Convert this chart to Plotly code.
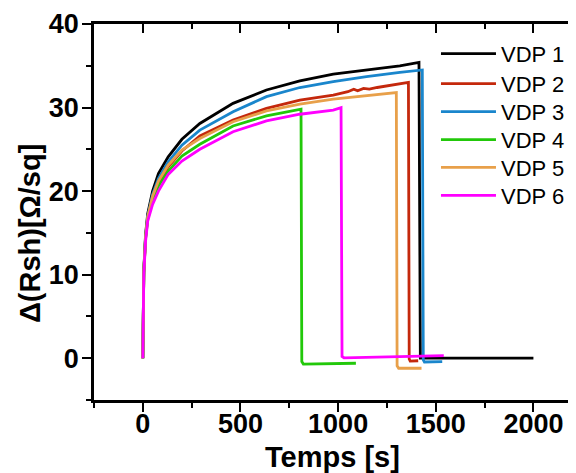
import plotly.graph_objects as go

# ---- data ----
series_names = ["VDP 1", "VDP 2", "VDP 3", "VDP 4", "VDP 5", "VDP 6"]

t1 = [0, 1.5, 5, 14, 25, 50, 80, 130, 200, 292, 462, 633, 804, 975, 1145, 1316, 1414, 1418, 1421, 2000]
y1 = [0, 6.3, 10.5, 14.8, 17.3, 20.0, 22.1, 24.1, 26.2, 28.1, 30.5, 32.1, 33.2, 34.0, 34.5, 35.0, 35.4, 0.2, 0.0, 0.0]

t2 = [0, 1.5, 5, 14, 25, 50, 80, 130, 200, 292, 462, 633, 804, 975, 1050, 1080, 1100, 1130, 1160, 1200, 1250, 1316, 1360, 1364, 1369, 1410]
y2 = [0, 6.2, 10.3, 14.4, 16.8, 19.2, 21.0, 22.9, 24.8, 26.6, 28.5, 29.9, 30.9, 31.5, 31.9, 32.2, 32.0, 32.3, 32.2, 32.4, 32.6, 32.8, 33.0, -0.1, -0.35, -0.3]

t3 = [0, 1.5, 5, 14, 25, 50, 80, 130, 200, 292, 462, 633, 804, 975, 1145, 1316, 1431, 1436, 1442, 1533]
y3 = [0, 6.3, 10.4, 14.6, 17.0, 19.6, 21.5, 23.5, 25.5, 27.3, 29.5, 31.3, 32.4, 33.1, 33.7, 34.2, 34.5, -0.2, -0.45, -0.4]

t4 = [0, 1.5, 5, 14, 25, 50, 80, 130, 200, 292, 462, 633, 810, 814, 822, 1091]
y4 = [0, 6.1, 10.2, 14.3, 16.6, 19.0, 20.6, 22.4, 24.2, 25.6, 27.8, 29.0, 29.8, -0.4, -0.7, -0.6]

t5 = [0, 1.5, 5, 14, 25, 50, 80, 130, 200, 292, 462, 633, 804, 975, 1145, 1298, 1302, 1310, 1427]
y5 = [0, 6.2, 10.3, 14.5, 16.9, 19.4, 21.2, 23.1, 24.9, 26.3, 28.3, 29.6, 30.4, 31.0, 31.4, 31.8, -0.9, -1.2, -1.2]

t6 = [0, 1.5, 5, 14, 25, 50, 80, 130, 200, 292, 462, 633, 804, 975, 1015, 1020, 1030, 1541]
y6 = [0, 6.0, 10.0, 14.0, 16.4, 18.4, 20.0, 22.0, 23.6, 25.0, 27.1, 28.4, 29.2, 29.7, 30.0, 0.2, 0.05, 0.3]

x_ticks = [0, 500, 1000, 1500, 2000]
y_ticks = [0, 10, 20, 30, 40]
x_title = "Temps [s]"
y_title = "Δ(Rsh)[Ω/sq]"

colors = ["#000000", "#C4280C", "#1A86CC", "#22C80A", "#E8A04A", "#FF00FF"]

FAM = "Liberation Sans, Arial"
legend_names = ["legend", "legend2", "legend3", "legend4", "legend5", "legend6"]
legend_rows_y = [0.9205, 0.8407, 0.7663, 0.6918, 0.6183, 0.5439]

fig = go.Figure()
for name, tx, ty, c, lg in zip(series_names, [t1, t2, t3, t4, t5, t6],
                               [y1, y2, y3, y4, y5, y6], colors, legend_names):
    fig.add_trace(go.Scatter(x=tx, y=ty, mode="lines", name=name, legend=lg,
                             line=dict(color=c, width=2.8)))

# helper trace so that the top/right frame axes are created
fig.add_trace(go.Scatter(x=[], y=[], xaxis="x2", yaxis="y2", showlegend=False, hoverinfo="skip"))

XR = [-250, 2218]
YR = [-5, 40]
tick_font = dict(family=FAM, size=27, color="black", weight="bold")
title_font = dict(family=FAM, size=29, color="black", weight="bold")

legend_layout = {}
for lg, ly in zip(legend_names, legend_rows_y):
    legend_layout[lg] = dict(x=0.7095, y=ly, xanchor="left", yanchor="middle",
                             bgcolor="rgba(0,0,0,0)", borderwidth=0,
                             font=dict(family=FAM, size=22, color="black"),
                             itemwidth=55)

fig.update_layout(
    width=568, height=465,
    margin=dict(l=86, r=0, t=16, b=73, autoexpand=False),
    paper_bgcolor="white", plot_bgcolor="white",
    showlegend=True,
    xaxis=dict(range=XR, tickvals=x_ticks, ticks="outside", ticklen=9, tickwidth=2,
               tickcolor="black", showline=True, linecolor="black", linewidth=2.5,
               showgrid=False, zeroline=False, automargin=False,
               tickfont=tick_font, ticklabelstandoff=-11,
               minor=dict(tickvals=[-250, 250, 750, 1250, 1750], ticks="outside",
                          ticklen=5, tickwidth=2, tickcolor="black", showgrid=False)),
    yaxis=dict(range=YR, tickvals=y_ticks, ticks="outside", ticklen=9, tickwidth=2,
               tickcolor="black", showline=True, linecolor="black", linewidth=2.5,
               showgrid=False, zeroline=False, automargin=False,
               tickfont=tick_font, ticklabelstandoff=-2,
               minor=dict(tickvals=[-5, 5, 15, 25, 35], ticks="outside",
                          ticklen=5, tickwidth=2, tickcolor="black", showgrid=False)),
    xaxis2=dict(range=XR, overlaying="x", side="top", anchor="y",
                tickvals=x_ticks, ticks="inside", ticklen=9, tickwidth=2, tickcolor="black",
                showline=True, linecolor="black", linewidth=2.5, automargin=False,
                showticklabels=False, showgrid=False, zeroline=False,
                minor=dict(tickvals=[250, 750, 1250, 1750], ticks="inside",
                           ticklen=5, tickwidth=2, tickcolor="black", showgrid=False)),
    yaxis2=dict(range=YR, overlaying="y", side="right", anchor="x",
                tickvals=y_ticks, ticks="inside", ticklen=4, tickwidth=2, tickcolor="black",
                showline=False, showticklabels=False, showgrid=False, zeroline=False,
                automargin=False),
    annotations=[
        dict(text=x_title, xref="paper", yref="paper", x=0.494, y=-0.152,
             xanchor="center", yanchor="middle", showarrow=False, font=title_font),
        dict(text=y_title, xref="paper", yref="paper", x=-0.1328, y=0.444,
             xanchor="center", yanchor="middle", textangle=-90, showarrow=False,
             font=title_font),
    ],
    **legend_layout,
)

fig.write_html("out.html")
